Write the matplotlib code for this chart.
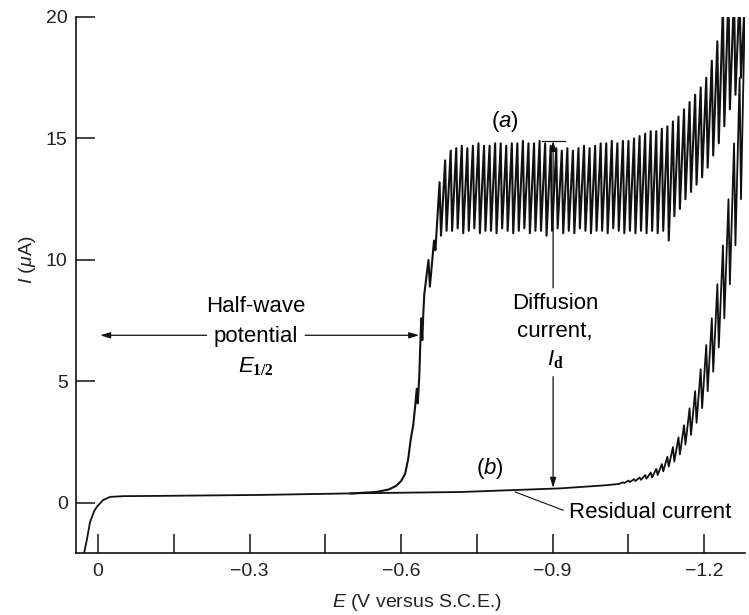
import numpy as np
import matplotlib.pyplot as plt

plt.rcParams['font.family'] = ['Liberation Sans', 'DejaVu Sans']
plt.rcParams['mathtext.fontset'] = 'custom'
plt.rcParams['mathtext.rm'] = 'Liberation Sans'
plt.rcParams['mathtext.it'] = 'Liberation Sans:italic'
plt.rcParams['mathtext.bf'] = 'Liberation Serif:bold'

# polarogram, E in V vs S.C.E., I in microamps
# smooth part of (b), residual current
b_E = [0.030, 0.022, 0.016, 0.008, 0.002, -0.010, -0.024, -0.050, -0.117,
       -0.32, -0.52, -0.717, -0.915, -1.0, -1.031]
b_I = [-2.3, -1.5, -0.8, -0.35, -0.15, 0.12, 0.25, 0.28, 0.29,
       0.33, 0.40, 0.45, 0.60, 0.72, 0.78]

# smooth part of (a), the wave itself
a_E = [-0.50, -0.55, -0.575, -0.59, -0.60, -0.608, -0.614, -0.619, -0.624,
       -0.628, -0.631, -0.633, -0.636, -0.638, -0.640, -0.642, -0.644, -0.646]
a_I = [0.39, 0.45, 0.55, 0.7, 0.9, 1.2, 1.8, 2.6, 3.2,
       4.0, 4.7, 4.1, 5.2, 6.5, 7.6, 6.7, 7.8, 8.6]

# drop by drop oscillation: low / high current of every mercury drop
drop_dE = 0.011
a_drop_start = -0.646
a_low = [8.6, 8.9, 10.4, 11.0, 11.2,
         11.2, 11.3, 11.1, 11.2, 11.3, 11.1, 11.2, 11.2, 11.1, 11.3, 11.2, 11.1,
         11.2, 11.3, 11.1, 11.2, 11.2, 11.0, 11.2, 11.3, 11.1, 11.2, 11.1, 11.3,
         11.2, 11.1, 11.2, 11.2, 11.1, 11.3, 11.2, 11.1,
         11.2, 11.1, 11.2, 11.1, 11.2, 11.1, 11.2, 10.8, 11.8, 12.1, 12.5, 12.8,
         13.1, 13.4, 13.8, 14.3, 14.8, 15.5, 16.2, 16.8, 17.5]
a_high = [10.0, 10.8, 13.2, 14.1, 14.5,
          14.6, 14.7, 14.6, 14.7, 14.8, 14.7, 14.7, 14.8, 14.8, 14.7, 14.8, 14.8,
          14.9, 14.8, 14.8, 14.9, 14.8, 14.7, 14.6, 14.5, 14.6, 14.5, 14.6, 14.7,
          14.6, 14.7, 14.8, 14.8, 14.9, 14.8, 14.9, 14.9,
          15.0, 15.1, 15.2, 15.3, 15.3, 15.4, 15.5, 15.7, 15.9, 16.2, 16.5, 16.8,
          17.1, 17.5, 18.2, 19.0, 20.5, 21.0, 21.0, 21.0, 21.0]

b_drop_start = -1.031
b_low = [0.78, 0.82, 0.86, 0.9, 0.95, 1.0, 1.05, 1.15, 1.3, 1.5, 1.7, 2.0,
         2.4, 2.8, 3.3, 3.9, 4.6, 5.4, 6.4, 7.6, 9.0, 10.6, 12.5]
b_high = [0.85, 0.92, 0.98, 1.05, 1.15, 1.25, 1.4, 1.6, 1.9, 2.3, 2.7, 3.2,
          3.9, 4.6, 5.5, 6.5, 7.6, 9.0, 10.6, 12.5, 14.8, 17.5, 21.0]

x_ticks = [0, -0.3, -0.6, -0.9, -1.2]
x_tick_labels = ['0', '\u22120.3', '\u22120.6', '\u22120.9', '\u22121.2']
x_minor = [-0.15, -0.45, -0.75, -1.05]
y_ticks = [0, 5, 10, 15, 20]


def drops(E0, low, high):
    E, I = [], []
    for k in range(len(low)):
        e = E0 - k * drop_dE
        E += [e, e - 0.75 * drop_dE]
        I += [low[k], high[k]]
    return E, I


fig = plt.figure(figsize=(7.49, 6.15), dpi=100)
ax = fig.add_axes([0.1015, 0.1008, 0.8932, 0.8716])

ink = '#111111'
aE, aI = drops(a_drop_start, a_low, a_high)
bE, bI = drops(b_drop_start, b_low, b_high)
ax.plot(a_E + aE, a_I + aI, color=ink, lw=1.5)
ax.plot(b_E + bE, b_I + bI, color=ink, lw=1.3)

ax.set_xlim(0.0436, -1.281)
ax.set_ylim(-2.06, 20)

for s in ['top', 'right']:
    ax.spines[s].set_visible(False)
for s in ['left', 'bottom']:
    ax.spines[s].set_linewidth(1.2)
    ax.spines[s].set_color(ink)

ax.set_xticks(x_ticks)
ax.set_xticklabels(x_tick_labels)
ax.set_xticks(x_minor, minor=True)
ax.set_yticks(y_ticks)
ax.tick_params(axis='both', which='both', direction='in', length=14,
               width=1.1, color=ink, labelsize=14, labelcolor='#222222')
ax.tick_params(axis='x', which='both', pad=7)
ax.tick_params(axis='y', pad=6)

ax.set_xlabel('$E$ (V versus S.C.E.)', fontsize=14, color='#222222')
ax.xaxis.set_label_coords(0.51, -0.072)
ax.set_ylabel('$I$ ($\\mu$A)', fontsize=14, color='#222222')
ax.yaxis.set_label_coords(-0.057, 0.547)

arrow = dict(arrowstyle='-|>,head_length=0.5,head_width=0.15',
             color=ink, lw=0.9, shrinkA=0, shrinkB=0, mutation_scale=12)
fs = 16

# half-wave potential
ax.text(-0.312, 8.1, 'Half-wave', ha='center', va='center', fontsize=fs)
ax.text(-0.312, 6.85, 'potential', ha='center', va='center', fontsize=fs)
ax.text(-0.312, 5.6, '$E_{\\mathbf{1/2}}$', ha='center', va='center', fontsize=fs)
ax.annotate('', xy=(-0.004, 6.9), xytext=(-0.215, 6.9), arrowprops=arrow)
ax.annotate('', xy=(-0.636, 6.9), xytext=(-0.41, 6.9), arrowprops=arrow)

# diffusion current
ax.plot([-0.879, -0.925], [14.9, 14.9], color=ink, lw=0.9)
ax.annotate('', xy=(-0.901, 14.9), xytext=(-0.901, 8.85), arrowprops=arrow)
ax.annotate('', xy=(-0.901, 0.62), xytext=(-0.901, 5.2), arrowprops=arrow)
ax.text(-0.905, 8.2, 'Diffusion', ha='center', va='center', fontsize=fs)
ax.text(-0.905, 7.05, 'current,', ha='center', va='center', fontsize=fs)
ax.text(-0.905, 5.9, '$I_{\\mathbf{d}}$', ha='center', va='center', fontsize=fs)

# trace labels
ax.text(-0.806, 15.7, '($a$)', ha='center', va='center', fontsize=fs)
ax.text(-0.775, 1.4, '($b$)', ha='center', va='center', fontsize=fs)
ax.plot([-0.826, -0.921], [0.45, -0.3], color=ink, lw=0.8)
ax.text(-0.933, -0.4, 'Residual current', ha='left', va='center', fontsize=fs)

fig.savefig('out.png', dpi=100)
